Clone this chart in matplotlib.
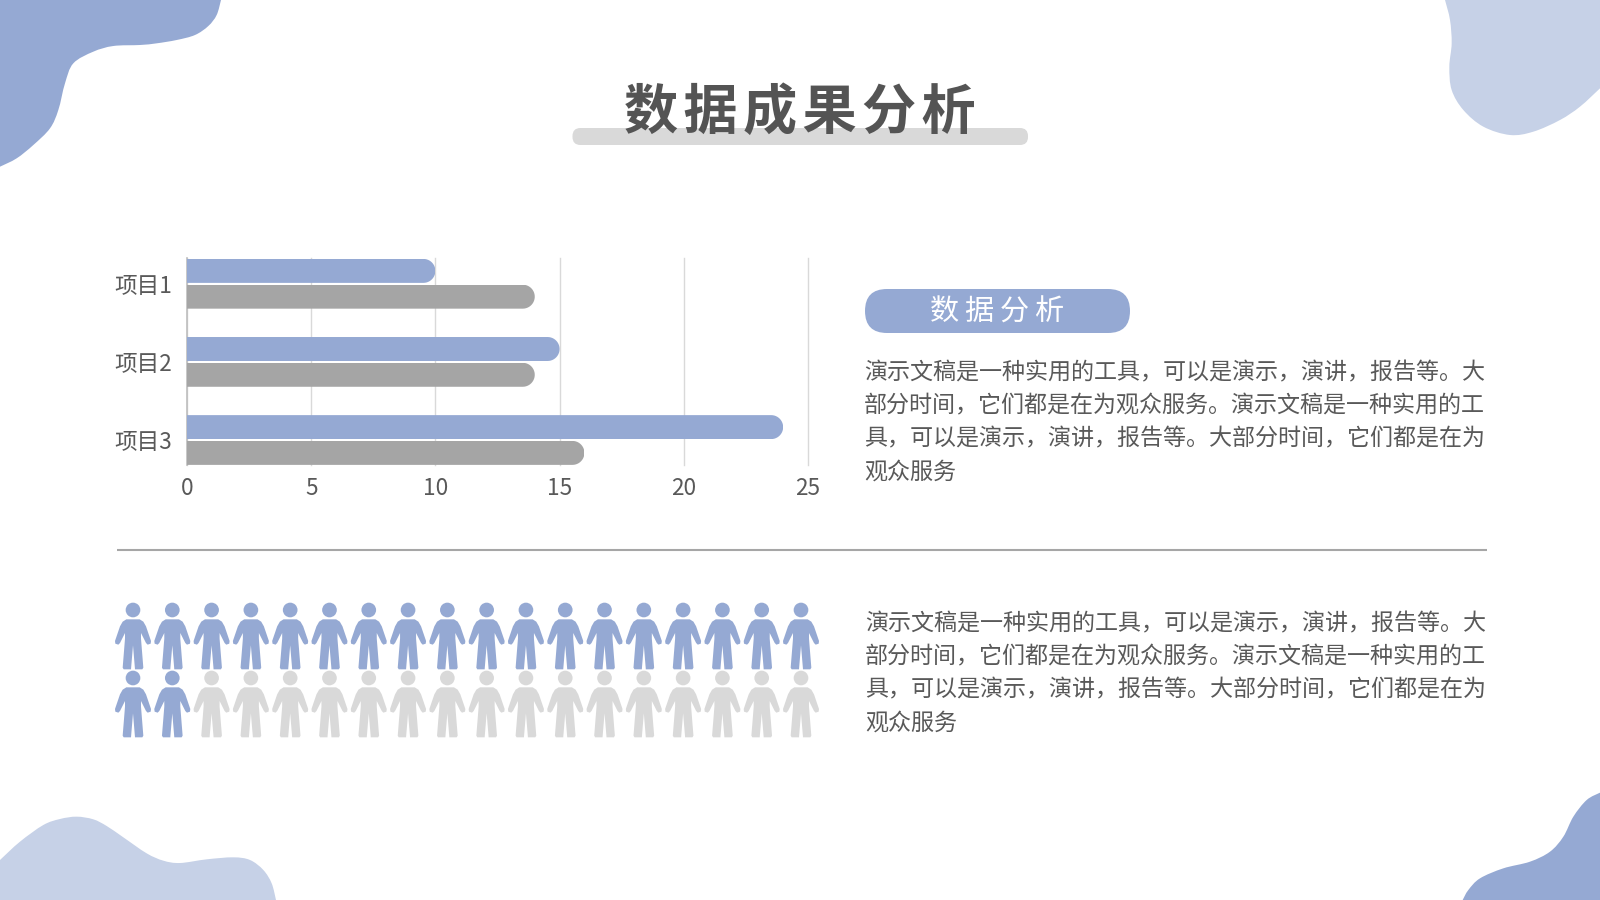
import numpy as np
import matplotlib
matplotlib.use("Agg")
import matplotlib.pyplot as plt
from matplotlib.path import Path
from matplotlib.patches import PathPatch, FancyBboxPatch

plt.rcParams['font.family'] = ['Noto Sans CJK SC', 'DejaVu Sans']

categories = ['项目1', '项目2', '项目3']
series_a = [10, 15, 24]
series_b = [14, 14, 16]
x_ticks = [0, 5, 10, 15, 20, 25]
people_per_row = 18
people_rows = 2
people_highlighted = 20
title = '数据成果分析'
pill_label = '数据分析'
body_lines = ['演示文稿是一种实用的工具，可以是演示，演讲，报告等。大',
              '部分时间，它们都是在为观众服务。演示文稿是一种实用的工',
              '具，可以是演示，演讲，报告等。大部分时间，它们都是在为',
              '观众服务']

BLUE = '#95A9D3'
LIGHT = '#C6D1E7'
GREY = '#A5A5A5'
PALE = '#D9D9D9'
TEXT = '#595959'
W, H = 1600, 900

fig = plt.figure(figsize=(16, 9), dpi=100, facecolor='white')
bg = fig.add_axes([0, 0, 1, 1])
bg.set_xlim(0, W); bg.set_ylim(H, 0); bg.axis('off')


def smooth(points, corners):
    """Catmull-Rom curve through points, closed through straight corners."""
    p = np.array(points, float)
    verts = [p[0]]; codes = [Path.MOVETO]
    for i in range(len(p) - 1):
        a = p[max(i - 1, 0)]; b = p[i]; c = p[i + 1]; d = p[min(i + 2, len(p) - 1)]
        verts += [b + (c - a) / 6, c - (d - b) / 6, c]
        codes += [Path.CURVE4] * 3
    for q in corners:
        verts.append(np.array(q, float)); codes.append(Path.LINETO)
    verts.append(p[0]); codes.append(Path.CLOSEPOLY)
    return Path(np.array(verts), codes)


def blob(zoom_pts, ox, oy, corners, color):
    pts = [(ox + x / 3, oy + y / 3) for x, y in zoom_pts]
    bg.add_patch(PathPatch(smooth(pts, corners), fc=color, ec='none'))


blob([(663, 0), (650, 45), (625, 78), (585, 105), (530, 120), (470, 130), (420, 135), (340, 138), (280, 155), (220, 190),
      (195, 250), (175, 330), (150, 385), (100, 435), (50, 475), (0, 500)], 0, 0, [(0, 0)], BLUE)
blob([(75, 0), (90, 60), (95, 130), (88, 200), (95, 270), (130, 330), (190, 380), (270, 405),
      (340, 395), (420, 360), (480, 320), (540, 265)], 1420, 0, [(1600, 0)], LIGHT)
blob([(0, 180), (60, 125), (130, 75), (180, 57), (230, 50), (280, 58), (320, 78), (370, 112), (440, 160), (490, 182), (540, 189),
      (620, 178), (700, 172), (750, 180), (790, 210), (815, 250), (828, 300)], 0, 800, [(0, 900)], LIGHT)
blob([(480, 38), (440, 60), (400, 110), (370, 170), (330, 215), (270, 245), (190, 265), (120, 295),
      (85, 330), (68, 360)], 1440, 780, [(1600, 900)], BLUE)

# title + underline
bg.add_patch(FancyBboxPatch((572.5, 128), 455.5, 17, boxstyle='round,pad=0,rounding_size=8',
                            fc=PALE, ec='none'))
bg.text(800, 113, '\u200a'.join(title), ha='center', va='center', fontsize=39, fontweight='bold', color='#545454')

# pill
bg.add_patch(FancyBboxPatch((865, 289), 265, 44, boxstyle='round,pad=0,rounding_size=22',
                            fc=BLUE, ec='none'))
bg.text(997.5, 313, '\u2009'.join(pill_label), ha='center', va='center', fontsize=21, fontweight='medium', color='white')

# body paragraphs
for x0, y0 in ((864, 373), (865, 624)):
    for i, line in enumerate(body_lines):
        bg.text(x0, y0 + i * 33.0, line, ha='left', va='center', fontsize=16.6, color=TEXT)

# divider
bg.plot([117, 1487], [549.5, 549.5], color='#A6A6A6', lw=1.5, solid_capstyle='butt')

# bar chart
ax = fig.add_axes([187 / W, 1 - 465 / H, (808 - 187) / W, (465 - 258) / H])
ax.patch.set_alpha(0)
ax.set_xlim(0, 25)
ax.set_ylim(2.32, -0.33)
unit_x = (808 - 187) / 25
yy = np.arange(len(categories))
h = 0.307
off = 0.165
for vals, d, col in ((series_a, -off, BLUE), (series_b, off, GREY)):
    bars = ax.barh(yy + d, vals, height=h, color=col, zorder=3)
    for rect, v, y in zip(bars, vals, yy + d):
        rx = 12 / unit_x
        th = np.linspace(np.pi / 2, -np.pi / 2, 24)
        xs = np.r_[0, v - rx + rx * np.cos(th), 0, 0]
        ys = np.r_[y - h / 2, y + (h / 2) * -np.sin(th), y + h / 2, y - h / 2]
        rect.set_clip_path(Path(np.c_[xs, ys]), ax.transData)
ax.set_xticks(x_ticks)
ax.set_yticks(yy, categories)
ax.xaxis.grid(True, color='#D9D9D9', lw=1, clip_on=False)
ax.set_axisbelow(True)
for s in ('top', 'right', 'bottom'):
    ax.spines[s].set_visible(False)
ax.spines['left'].set_color('#BFBFBF')
ax.spines['left'].set_linewidth(1.2)
ax.tick_params(axis='both', length=0, labelsize=16.3, labelcolor=TEXT)
ax.tick_params(axis='x', pad=8.6)
ax.tick_params(axis='y', pad=10.4)


# pictogram
def person():
    half = [(0, 87), (20, 87), (31, 94), (39, 108), (54, 152), (53, 160), (44, 163), (39, 158), (24, 128),
            (24, 145), (31, 232), (28, 237), (6, 237), (0, 165)]
    right = [(x / 3, (y - 137) / 3) for x, y in half]
    left = [(-x, y) for x, y in right[-2:0:-1]]
    body = right + left
    verts = body + [body[0]]
    codes = [Path.MOVETO] + [Path.LINETO] * (len(body) - 1) + [Path.CLOSEPOLY]
    b = Path(verts, codes)
    head = Path.circle((0, (59 - 137) / 3), 22 / 3)
    return Path.make_compound_path(b, head)


icon = person()
icon = Path(icon.vertices * [1, -1], icon.codes)  # screen y down -> data y up
size = (np.abs(icon.vertices).max() * 2 * 72 / 100) ** 2

pa = fig.add_axes([133 / W, 1 - 704 / H, (801 - 133) / W, (704 - 636) / H])
pa.set_xlim(0, people_per_row - 1)
pa.set_ylim(people_rows - 1, 0)
pa.axis('off')
cols, rows = np.meshgrid(np.arange(people_per_row), np.arange(people_rows))
cols, rows = cols.ravel(), rows.ravel()
face = [BLUE if i < people_highlighted else PALE for i in range(cols.size)]
pa.scatter(cols, rows, marker=icon, s=size, c=face, linewidths=0, clip_on=False)

fig.savefig('out.png', dpi=100)
